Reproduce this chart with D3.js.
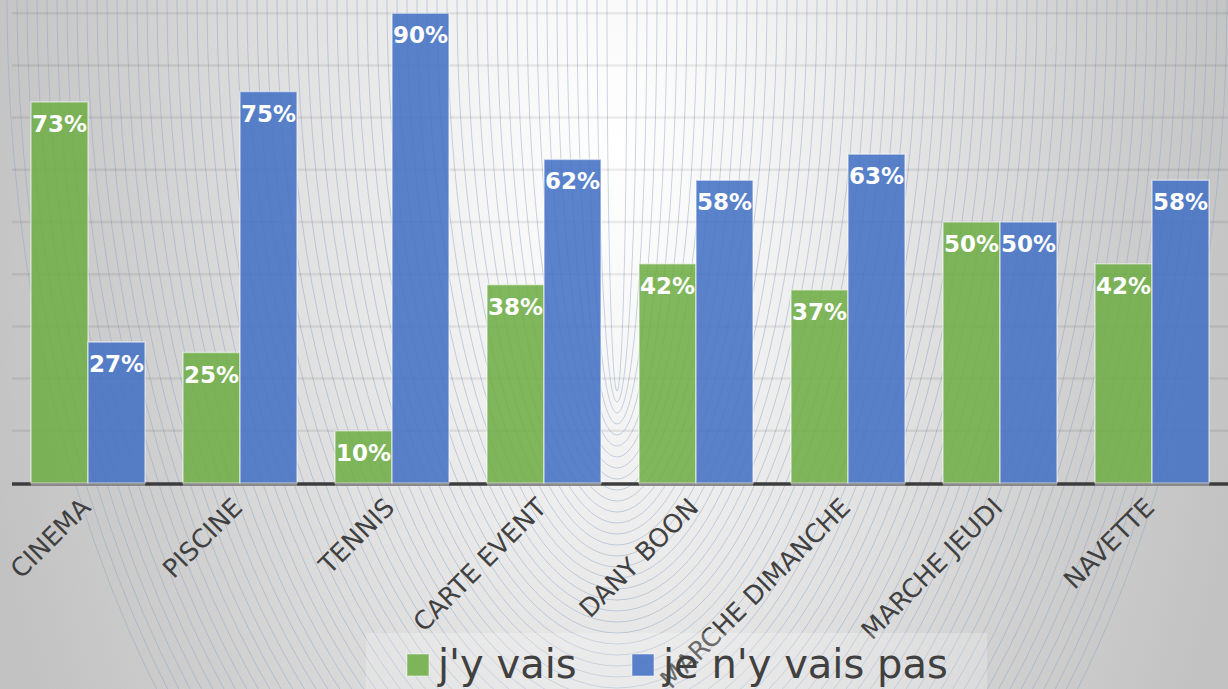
<!DOCTYPE html>
<html>
<head>
<meta charset="utf-8">
<script src="https://cdn.jsdelivr.net/npm/d3@7"></script>
<style>
  html, body { margin: 0; padding: 0; background: #c2c2c2; }
  svg { display: block; }
  text { font-family: "DejaVu Sans", sans-serif; }
</style>
</head>
<body>
<svg id="chart" width="1228" height="689"></svg>
<script>
// ---- data ----
const categories = ["CINEMA", "PISCINE", "TENNIS", "CARTE EVENT", "DANY BOON", "MARCHE DIMANCHE", "MARCHE JEUDI", "NAVETTE"];
const seriesNames = ["j'y vais", "je n'y vais pas"];
const jyVais = [0.73, 0.25, 0.10, 0.38, 0.42, 0.37, 0.50, 0.42];
const jeNyVaisPas = [0.27, 0.75, 0.90, 0.62, 0.58, 0.63, 0.50, 0.58];
const gridTicks = [0.1, 0.2, 0.3, 0.4, 0.5, 0.6, 0.7, 0.8, 0.9, 1.0];
const seriesColors = ["#70AD47", "#4472C4"];

const W = 1228, H = 689;
const svg = d3.select("#chart");
const defs = svg.append("defs");

// background gradient
const grad = defs.append("radialGradient")
  .attr("id", "bg").attr("gradientUnits", "userSpaceOnUse")
  .attr("cx", 614).attr("cy", 150).attr("r", 650)
  .attr("gradientTransform", "translate(614,150) scale(1,1.8) translate(-614,-150)");
[[0, "#ffffff"], [0.2, "#f6f6f6"], [0.45, "#e4e4e4"], [0.75, "#cfcfcf"], [1, "#c2c2c2"]]
  .forEach(([o, c]) => grad.append("stop").attr("offset", o).attr("stop-color", c));
svg.append("rect").attr("width", W).attr("height", H).attr("fill", "url(#bg)");

// decorative concentric pattern
const pat = svg.append("g").attr("fill", "none").attr("stroke", "#8ea4c4")
  .attr("stroke-opacity", 0.6).attr("stroke-width", 0.8);
pat.selectAll("ellipse").data(d3.range(1, 62)).join("ellipse")
  .attr("cx", 617).attr("cy", 0)
  .attr("rx", k => 10 * k).attr("ry", k => 380 + 11 * k);

// scales
const x = d3.scaleBand().domain(categories).range([12, W]).paddingInner(0.25).paddingOuter(0.125);
const xs = d3.scaleBand().domain(seriesNames).range([0, x.bandwidth()]);
const y = d3.scaleLinear().domain([0, 1]).range([483, -39]);

// gridlines
svg.append("g").selectAll("line").data(gridTicks).join("line")
  .attr("x1", 12).attr("x2", W)
  .attr("y1", d => y(d)).attr("y2", d => y(d))
  .attr("stroke", "#000").attr("stroke-opacity", 0.07).attr("stroke-width", 2.5);

// axis line
svg.append("line").attr("x1", 12).attr("x2", W).attr("y1", y(0) + 1).attr("y2", y(0) + 1)
  .attr("stroke", "#3c3c3c").attr("stroke-width", 3.5);

// bars
const rows = categories.map((c, i) => ({ cat: c, vals: [jyVais[i], jeNyVaisPas[i]] }));
const groups = svg.append("g").selectAll("g").data(rows).join("g")
  .attr("transform", d => `translate(${x(d.cat)},0)`);

groups.append("rect")
  .attr("x", 0).attr("width", x.bandwidth())
  .attr("y", y(0) + 0.5).attr("height", 2.5).attr("fill", "#8a8a8a");

const bars = groups.selectAll("g.bar").data(d => d.vals.map((v, j) => ({ v, s: seriesNames[j], j })))
  .join("g").attr("class", "bar");

bars.append("rect")
  .attr("x", d => xs(d.s)).attr("width", xs.bandwidth())
  .attr("y", d => y(d.v)).attr("height", d => y(0) - y(d.v))
  .attr("fill", d => seriesColors[d.j]).attr("fill-opacity", 0.88)
  .attr("stroke", "#ffffff").attr("stroke-opacity", 0.5).attr("stroke-width", 1.5);

bars.append("text")
  .attr("x", d => xs(d.s) + xs.bandwidth() / 2)
  .attr("y", d => y(d.v) + 30)
  .attr("text-anchor", "middle")
  .attr("fill", "#ffffff").attr("font-weight", "bold").attr("font-size", "23px")
  .text(d => Math.round(d.v * 100) + "%");

// category labels
svg.append("g").selectAll("text").data(categories).join("text")
  .attr("transform", d => `translate(${x(d) + x.bandwidth() / 2 + 4},509) rotate(-45)`)
  .attr("text-anchor", "end")
  .attr("fill", "#404040").attr("font-size", "25.5px")
  .text(d => d);

// legend
const lg = svg.append("g");
lg.append("rect").attr("x", 366).attr("y", 633).attr("width", 621).attr("height", 60)
  .attr("fill", "#ffffff").attr("fill-opacity", 0.22);
const legendX = [407, 632];
const li = lg.selectAll("g").data(seriesNames).join("g")
  .attr("transform", (d, i) => `translate(${legendX[i]},0)`);
li.append("rect").attr("x", 0).attr("y", 654).attr("width", 22).attr("height", 22)
  .attr("fill", (d, i) => seriesColors[i]).attr("fill-opacity", 0.88)
  .attr("stroke", "#ffffff").attr("stroke-opacity", 0.5);
li.append("text").attr("x", 31).attr("y", 678)
  .attr("fill", "#404040").attr("font-size", "40px").text(d => d);
</script>
</body>
</html>
